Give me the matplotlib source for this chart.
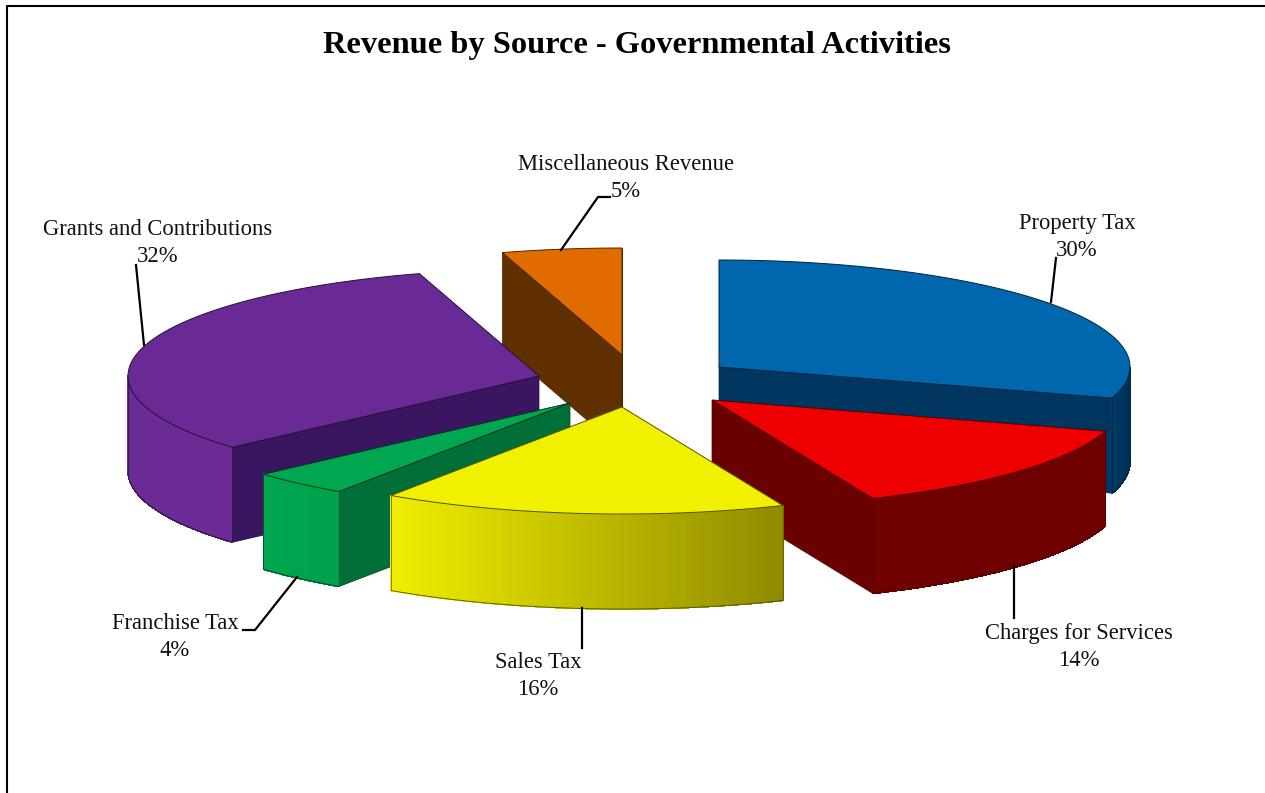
import numpy as np
import matplotlib
matplotlib.use("Agg")
import matplotlib.pyplot as plt
from matplotlib.colors import to_rgb

# --- data ---
categories = ["Property Tax", "Charges for Services", "Sales Tax",
              "Franchise Tax", "Grants and Contributions", "Miscellaneous Revenue"]
values = [29.7, 13.9, 15.9, 3.9, 31.9, 4.7]
title = "Revenue by Source - Governmental Activities"

# --- styles / layout (pixel space) ---
W, H = 1265, 793
RX, RY, DEPTH = 411, 107, 95
centers = [(719, 367), (712, 400), (622, 407), (570, 403), (539, 376), (622, 355)]
top_cols = ["#0066ad", "#ee0000", "#f0f000", "#00a650", "#6a2a96", "#e06c00"]
cut_cols = ["#003660", "#6a0000", "#8f8a00", "#006f38", "#3a1560", "#603000"]
wall_l = ["#003a66", "#6e0000", "#f0ee00", "#00a650", "#6a2c94", "#603000"]
wall_r = ["#002f55", "#6e0000", "#8f8a00", "#00a04c", "#6a2c94", "#603000"]
draw_order = [5, 4, 0, 3, 1, 2]
label_pos = [(1077, 229), (1079, 639), (538, 668), (175, 629), (158, 235), (626, 170)]
leaders = [[(1051, 302), (1056, 258)],
           [(1014, 566), (1014, 618)],
           [(582, 608), (582, 648)],
           [(297, 577), (255, 630), (243, 630)],
           [(144, 345), (136, 265)],
           [(561, 250), (598, 197), (610, 197)]]

plt.rcParams["font.family"] = ["Liberation Serif", "DejaVu Serif"]
fig = plt.figure(figsize=(W / 100, H / 100), dpi=100, facecolor="white")
ax = fig.add_axes([0, 0, 1, 1])
ax.set_xlim(0, W)
ax.set_ylim(H, 0)
ax.axis("off")

shares = np.array(values, dtype=float) / np.sum(values) * 360.0
stops = np.concatenate([[0.0], np.cumsum(shares)])


def rim(c, deg, dz=0.0):
    t = np.radians(deg)
    return c[0] + RX * np.sin(t), c[1] - RY * np.cos(t) + dz


def cut_wall(c, deg, col, edge, z):
    px, py = rim(c, deg)
    ax.fill([c[0], px, px, c[0]], [c[1], py, py + DEPTH, c[1] + DEPTH],
            facecolor=col, edgecolor=edge, linewidth=0.5, zorder=z)


for z, i in enumerate(draw_order):
    c, a0, a1 = centers[i], stops[i], stops[i + 1]
    base = z * 10
    edge = tuple(np.array(to_rgb(top_cols[i])) * 0.35)
    # side cuts that face the viewer
    if 0 < a1 % 360 < 180:
        cut_wall(c, a1, cut_cols[i], edge, base + 1)
    if 180 < a0 < 360:
        cut_wall(c, a0, cut_cols[i], edge, base + 1)
    # outer wall, in thin strips for the shading
    lo, hi = max(a0, 90.0), min(a1, 270.0)
    if lo < hi:
        th = np.linspace(lo, hi, 160)
        xs, ys = rim(c, th)
        xmin, xmax = xs.min(), xs.max()
        cl, cr = np.array(to_rgb(wall_l[i])), np.array(to_rgb(wall_r[i]))
        for k in range(len(th) - 1):
            f = ((xs[k] + xs[k + 1]) / 2 - xmin) / max(xmax - xmin, 1)
            col = cl + (cr - cl) * f
            ax.fill([xs[k], xs[k + 1], xs[k + 1], xs[k]],
                    [ys[k], ys[k + 1], ys[k + 1] + DEPTH, ys[k] + DEPTH],
                    facecolor=col, edgecolor=col, linewidth=0.6,
                    antialiased=False, zorder=base + 2)
        ax.plot(np.r_[xs[0], xs, xs[-1]], np.r_[ys[0] + DEPTH, ys + DEPTH, ys[-1] + DEPTH],
                color=edge, lw=0.6, zorder=base + 3)
        ax.plot([xs[0], xs[0]], [ys[0], ys[0] + DEPTH], color=edge, lw=0.5, zorder=base + 3)
        ax.plot([xs[-1], xs[-1]], [ys[-1], ys[-1] + DEPTH], color=edge, lw=0.5, zorder=base + 3)
    # top face
    th = np.linspace(a0, a1, 120)
    xs, ys = rim(c, th)
    ax.fill(np.r_[c[0], xs], np.r_[c[1], ys], facecolor=top_cols[i],
            edgecolor=edge, linewidth=0.7, zorder=base + 4)

# labels
for name, v, (lx, ly), pts in zip(categories, values, label_pos, leaders):
    ax.text(lx, ly, name, ha="center", va="baseline", fontsize=16.3, color="#111111", zorder=200)
    ax.text(lx, ly + 27, f"{v:.0f}%", ha="center", va="baseline", fontsize=16.3, color="#111111", zorder=200)
    arr = np.array(pts)
    ax.plot(arr[:, 0], arr[:, 1], color="black", lw=1.6, zorder=150, solid_joinstyle="miter")

ax.text(637, 53, title, ha="center", va="baseline", fontsize=23.3, fontweight="bold",
        color="black", zorder=200)

# outer frame
ax.plot([7, 7, W + 5], [H + 5, 5.5, 5.5], color="black", lw=1.5, zorder=300)

fig.savefig("out.png", dpi=100, facecolor="white")
